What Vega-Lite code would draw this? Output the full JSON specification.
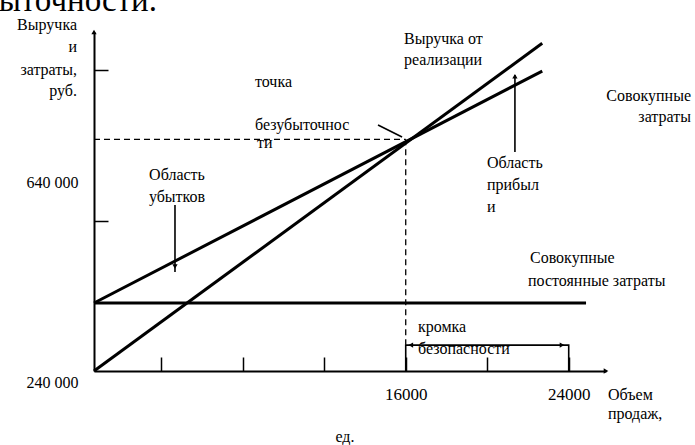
{
  "$schema": "https://vega.github.io/schema/vega-lite/v6.json",
  "width": 512,
  "height": 339,
  "autosize": {"type": "none"},
  "padding": {"left": 94, "top": 32, "right": 89, "bottom": 74},
  "background": "white",
  "config": {
    "view": {"stroke": null},
    "axis": {"grid": false, "domainColor": "black", "domainWidth": 2, "tickColor": "black", "tickWidth": 1.5, "labelColor": "black", "labelFont": "Liberation Serif", "labelFontSize": 16}
  },
  "datasets": {
    "lines": [
      {"k": "main", "s": "rev", "o": 1, "x": 700, "y": 240000},
      {"k": "main", "s": "rev", "o": 2, "x": 22700, "y": 936000},
      {"k": "main", "s": "cost", "o": 1, "x": 700, "y": 384400},
      {"k": "main", "s": "cost", "o": 2, "x": 22700, "y": 877000},
      {"k": "main", "s": "fix", "o": 1, "x": 700, "y": 384400},
      {"k": "main", "s": "fix", "o": 2, "x": 24850, "y": 384400},
      {"k": "dash", "s": "h", "o": 1, "x": 700, "y": 732000},
      {"k": "dash", "s": "h", "o": 2, "x": 16000, "y": 732000},
      {"k": "dash", "s": "v", "o": 1, "x": 16000, "y": 732000},
      {"k": "dash", "s": "v", "o": 2, "x": 16000, "y": 296000},
      {"k": "thin", "s": "br", "o": 1, "x": 16000, "y": 240000},
      {"k": "thin", "s": "br", "o": 2, "x": 16000, "y": 295000},
      {"k": "thin", "s": "br", "o": 3, "x": 24000, "y": 295000},
      {"k": "thin", "s": "br", "o": 4, "x": 24000, "y": 240000},
      {"k": "thin", "s": "loss", "o": 1, "x": 4675, "y": 592600},
      {"k": "thin", "s": "loss", "o": 2, "x": 4675, "y": 450300},
      {"k": "thin", "s": "prof", "o": 1, "x": 21360, "y": 868700},
      {"k": "thin", "s": "prof", "o": 2, "x": 21360, "y": 705200},
      {"k": "thin", "s": "be", "o": 1, "x": 14640, "y": 762500},
      {"k": "thin", "s": "be", "o": 2, "x": 15820, "y": 737000}
    ],
    "heads": [
      {"sh": "triangle-up", "x": 700, "y": 960000},
      {"sh": "triangle-right", "x": 25830, "y": 240000},
      {"sh": "triangle-left", "x": 16250, "y": 295000},
      {"sh": "triangle-right", "x": 23670, "y": 295000},
      {"sh": "triangle-down", "x": 4675, "y": 462000},
      {"sh": "triangle-up", "x": 21360, "y": 866000}
    ],
    "texts": [
      {"a": "right", "t": "Выручка", "x": -134, "y": 974900},
      {"a": "right", "t": "и", "x": -134, "y": 928200},
      {"a": "right", "t": "затраты,", "x": -134, "y": 879300},
      {"a": "right", "t": "руб.", "x": -134, "y": 834700},
      {"a": "right", "t": "Совокупные", "x": 30001, "y": 824100},
      {"a": "right", "t": "затраты", "x": 30001, "y": 779500},
      {"a": "left", "t": "точка", "x": 8602, "y": 853800},
      {"a": "left", "t": "безубыточнос", "x": 8602, "y": 762500},
      {"a": "left", "t": "ти", "x": 8700, "y": 724300},
      {"a": "left", "t": "Выручка от", "x": 15915, "y": 945200},
      {"a": "left", "t": "реализации", "x": 15915, "y": 900600},
      {"a": "left", "t": "Область", "x": 19988, "y": 681800},
      {"a": "left", "t": "прибыл", "x": 19988, "y": 635100},
      {"a": "left", "t": "и", "x": 19988, "y": 588300},
      {"a": "left", "t": "Совокупные", "x": 22099, "y": 480000},
      {"a": "left", "t": "постоянные затраты", "x": 22000, "y": 431200},
      {"a": "left", "t": "кромка", "x": 16602, "y": 333500},
      {"a": "left", "t": "безопасности", "x": 16602, "y": 286700},
      {"a": "left", "t": "Объем", "x": 25927, "y": 189000},
      {"a": "left", "t": "продаж,", "x": 25927, "y": 148700},
      {"a": "center", "t": "Область", "x": 4774, "y": 656300},
      {"a": "center", "t": "убытков", "x": 4774, "y": 609600},
      {"a": "center", "t": "ед.", "x": 13019, "y": 99800},
      {"a": "big", "t": "безубыточности.", "x": 3792, "y": 1004600}
    ]
  },
  "encoding": {
    "x": {
      "field": "x", "type": "quantitative",
      "scale": {"domain": [700, 25830], "nice": false, "zero": false},
      "axis": {
        "values": [4000, 8000, 12000, 16000, 20000, 24000],
        "format": "d",
        "labelExpr": "datum.value == 16000 || datum.value == 24000 ? datum.label : ''",
        "tickSize": -14,
        "labelPadding": 29,
        "labelFontSize": 17,
        "title": null
      }
    },
    "y": {
      "field": "y", "type": "quantitative",
      "scale": {"domain": [240000, 960000], "nice": false, "zero": false},
      "axis": {
        "values": [240000, 558600, 640000, 879300],
        "labelExpr": "datum.value == 240000 ? '240 000' : datum.value == 640000 ? '640 000' : ''",
        "tickSize": -14,
        "tickOpacity": {"condition": {"test": "datum.value == 240000 || datum.value == 640000", "value": 0}, "value": 1},
        "labelOffset": {"condition": {"test": "datum.value == 240000", "value": 11}, "value": 0},
        "labelPadding": 30,
        "title": null
      }
    }
  },
  "layer": [
    {
      "data": {"name": "lines"},
      "transform": [{"filter": "datum.k == 'main'"}],
      "mark": {"type": "line", "color": "black", "strokeWidth": 3},
      "encoding": {"detail": {"field": "s"}, "order": {"field": "o"}}
    },
    {
      "data": {"name": "lines"},
      "transform": [{"filter": "datum.k == 'dash'"}],
      "mark": {"type": "line", "color": "black", "strokeWidth": 1.3, "strokeDash": [6, 4]},
      "encoding": {"detail": {"field": "s"}, "order": {"field": "o"}}
    },
    {
      "data": {"name": "lines"},
      "transform": [{"filter": "datum.k == 'thin'"}],
      "mark": {"type": "line", "color": "black", "strokeWidth": 1.6},
      "encoding": {"detail": {"field": "s"}, "order": {"field": "o"}}
    },
    {
      "data": {"name": "heads"},
      "mark": {"type": "point", "filled": true, "color": "black", "size": 28, "opacity": 1},
      "encoding": {"shape": {"field": "sh", "type": "nominal", "scale": null}}
    },
    {
      "data": {"name": "texts"},
      "transform": [{"filter": "datum.a == 'left'"}],
      "mark": {"type": "text", "align": "left", "baseline": "middle", "font": "Liberation Serif", "fontSize": 16, "color": "black"},
      "encoding": {"text": {"field": "t"}}
    },
    {
      "data": {"name": "texts"},
      "transform": [{"filter": "datum.a == 'right'"}],
      "mark": {"type": "text", "align": "right", "baseline": "middle", "font": "Liberation Serif", "fontSize": 16, "color": "black"},
      "encoding": {"text": {"field": "t"}}
    },
    {
      "data": {"name": "texts"},
      "transform": [{"filter": "datum.a == 'center'"}],
      "mark": {"type": "text", "align": "center", "baseline": "middle", "font": "Liberation Serif", "fontSize": 16, "color": "black"},
      "encoding": {"text": {"field": "t"}}
    },
    {
      "data": {"name": "texts"},
      "transform": [{"filter": "datum.a == 'big'"}],
      "mark": {"type": "text", "align": "right", "baseline": "alphabetic", "font": "Liberation Serif", "fontSize": 33, "color": "black"},
      "encoding": {"text": {"field": "t"}}
    }
  ]
}
